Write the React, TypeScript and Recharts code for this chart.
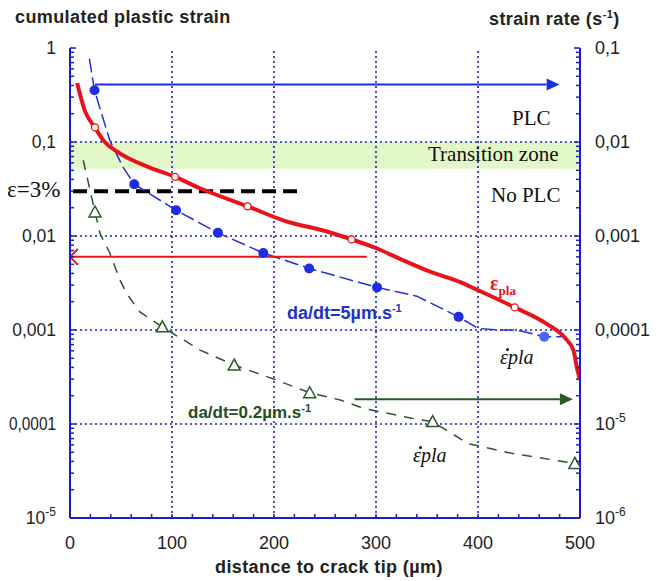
import React from "react";
import { ComposedChart, Line, XAxis, YAxis, ReferenceLine, ReferenceArea } from "recharts";

const W = 653;
const H = 573;
const AXIS = "#1c1cc8";
const GRID = "#1c1cd0";
const RED = "#e8141a";
const BLUE = "#1f2ee0";
const GREEN = "#2b572b";
const SANS = "'Liberation Sans', Arial, sans-serif";
const SERIF = "'Liberation Serif', 'Times New Roman', serif";

// distance to crack tip (µm)
const distanceTicks = [0, 20, 40, 60, 80, 100, 120, 140, 160, 180, 200, 220, 240, 260, 280, 300, 320, 340, 360, 380, 400, 420, 440, 460, 480, 500];
const distanceGrid = [100, 200, 300, 400];

// log ticks
const mantissas = [1, 2, 3, 4, 5, 6, 7, 8, 9];
const strainDecades = [1e-5, 1e-4, 1e-3, 1e-2, 0.1];
const rateDecades = [1e-6, 1e-5, 1e-4, 1e-3, 1e-2];
const strainGrid = [0.1, 0.01, 0.001, 0.0001];

// cumulated plastic strain (left axis)
const plaDist = [7, 15, 24.5, 33, 47, 77, 103, 128, 174, 209, 255, 276, 301, 323, 353, 382, 400, 436, 467, 485, 493.5, 497.5, 500];
const plaStrain = [0.425, 0.209, 0.143, 0.103, 0.078, 0.054, 0.0426, 0.032, 0.0207, 0.0147, 0.0109, 0.0092, 0.00736, 0.00575, 0.00417, 0.00325, 0.00265, 0.00174, 0.00117, 0.00083, 0.00061, 0.000374, 0.000295];
const plaMarkDist = [24.5, 103, 174, 276, 436];
const plaMarkStrain = [0.143, 0.0426, 0.0207, 0.0092, 0.00174];

// strain rate, da/dt = 5 µm/s (right axis)
const fastDist = [19, 24, 39, 52, 63, 104, 145, 189.5, 234.5, 301, 340, 381, 400, 421, 438, 465, 482];
const fastRate = [0.077, 0.0355, 0.0104, 0.0054, 0.00356, 0.00188, 0.00108, 0.00066, 0.000452, 0.000284, 0.000229, 0.000138, 0.000104, 0.0001, 0.0001, 0.000085, 0.000085];
const fastMarkDist = [24, 63, 104, 145, 189.5, 234.5, 301, 381];
const fastMarkRate = [0.0355, 0.00356, 0.00188, 0.00108, 0.00066, 0.000452, 0.000284, 0.000138];
const fastEndDist = [465];
const fastEndRate = [0.000085];

// strain rate, da/dt = 0.2 µm/s (right axis)
const slowDist = [13, 24.5, 29.5, 39, 49, 55.5, 68.5, 90.5, 127.5, 161, 202.5, 235, 265, 287.5, 335, 355.5, 390.5, 433, 495];
const slowRate = [0.0064, 0.0018, 0.00106, 0.00066, 0.000339, 0.000245, 0.000156, 0.000108, 0.0000611, 0.0000424, 0.0000293, 0.0000215, 0.000018, 0.0000147, 0.0000115, 0.0000106, 0.00000617, 0.00000488, 0.00000381];
const slowMarkDist = [24.5, 90.5, 161, 235, 355.5, 495];
const slowMarkRate = [0.0018, 0.000108, 0.0000424, 0.0000215, 0.0000106, 0.00000381];

// annotations
const transitionBand = [0.052, 0.1];
const plcArrow = { from: 24.5, to: 480, strain: 0.41 };
const noPlcArrow = { from: 291, to: 0, strain: 0.006 };
const slowArrow = { from: 279, to: 493, strain: 0.000183 };
const threshold = { from: 3, to: 227, strain: 0.03 };

const zip = (xs: number[], ys: number[]) => xs.map((x, i) => ({ x, y: ys[i] }));
const logTicks = (decades: number[], top: number) => [...decades.flatMap((d) => mantissas.map((m) => d * m)), top];
const isDecade = (v: number) => Math.abs(Math.log10(v) - Math.round(Math.log10(v))) < 1e-6;

const tickLabel = (v: number) => {
  if (v >= 1e-4) return <tspan>{String(v).replace(".", ",")}</tspan>;
  return (
    <>
      <tspan>10</tspan>
      <tspan dy={-8} fontSize={12}>{String(Math.round(Math.log10(v)))}</tspan>
    </>
  );
};

const leftTick = (props: any) => {
  const { x, y, payload } = props;
  const v = payload.value;
  const major = isDecade(v);
  // the longest label ("0,0001") is squeezed a little so it stays inside the picture
  const squeeze = major && v >= 1e-4 && String(v).length > 5 ? { textLength: x - 15, lengthAdjust: "spacingAndGlyphs" } : {};
  return (
    <g>
      <line x1={x} y1={y} x2={x + (major ? 6 : 4)} y2={y} stroke={AXIS} strokeWidth={1.5} />
      {major && (
        <text x={x - 14} y={y} dy="0.35em" textAnchor="end" fontSize={17.5} fill="#222" fontFamily={SANS} {...squeeze}>
          {tickLabel(v)}
        </text>
      )}
    </g>
  );
};

const rightTick = (props: any) => {
  const { x, y, payload } = props;
  const major = isDecade(payload.value);
  return (
    <g>
      <line x1={x} y1={y} x2={x - (major ? 6 : 4)} y2={y} stroke={AXIS} strokeWidth={1.5} />
      {major && (
        <text x={x + 15} y={y} dy="0.35em" textAnchor="start" fontSize={18} fill="#222" fontFamily={SANS}>
          {tickLabel(payload.value)}
        </text>
      )}
    </g>
  );
};

const bottomTick = (props: any) => {
  const { x, y, payload } = props;
  const major = payload.value % 100 === 0;
  return (
    <g>
      <line x1={x} y1={y} x2={x} y2={y - 4} stroke={AXIS} strokeWidth={1.5} />
      {major && (
        <text x={x} y={y + 25} dy="0.35em" textAnchor="middle" fontSize={18} fill="#222" fontFamily={SANS}>
          {payload.value}
        </text>
      )}
    </g>
  );
};

const topTick = (props: any) => {
  const { x, y } = props;
  return <line x1={x} y1={y} x2={x} y2={y + 4} stroke={AXIS} strokeWidth={1.5} />;
};

const filledArrow = (props: any) => {
  const { x1, y1, x2, y2, stroke } = props;
  const dir = x2 > x1 ? 1 : -1;
  const head = 13;
  return (
    <g>
      <line x1={x1} y1={y1} x2={x2 - dir * head} y2={y2} stroke={stroke} strokeWidth={2} />
      <polygon points={`${x2},${y2} ${x2 - dir * head},${y2 - 6} ${x2 - dir * head},${y2 + 6}`} fill={stroke} />
    </g>
  );
};

const openArrow = (props: any) => {
  const { x1, y1, x2, y2, stroke } = props;
  const dir = x2 > x1 ? 1 : -1;
  return (
    <g fill="none" stroke={stroke} strokeWidth={2}>
      <line x1={x1} y1={y1} x2={x2} y2={y2} />
      <polyline points={`${x2 - dir * 8},${y2 - 8} ${x2},${y2} ${x2 - dir * 8},${y2 + 8}`} />
    </g>
  );
};

const openCircle = (props: any) => <circle key={props.index} cx={props.cx} cy={props.cy} r={3.5} fill="#fff" stroke={RED} strokeWidth={1.3} />;
const blueDot = (props: any) => <circle key={props.index} cx={props.cx} cy={props.cy} r={5} fill={BLUE} stroke="none" />;
const blueEnd = (props: any) => <circle key={props.index} cx={props.cx} cy={props.cy} r={5} fill="#4d66f0" stroke="none" />;
const triangle = (props: any) => {
  const { cx, cy, index } = props;
  return <polygon key={index} points={`${cx},${cy - 6} ${cx - 6},${cy + 5} ${cx + 6},${cy + 5}`} fill="#fff" stroke={GREEN} strokeWidth={1.5} />;
};

const Note = ({ left, top, style, children }: any) => (
  <div style={{ position: "absolute", left, top, transform: "translateY(-50%)", whiteSpace: "nowrap", lineHeight: 1, pointerEvents: "none", ...style }}>
    {children}
  </div>
);

// strain rate symbol: epsilon with a dot above, followed by "pla"
const RateSymbol = () => (
  <>
    <span style={{ position: "relative", display: "inline-block" }}>
      ε
      <span style={{ position: "absolute", left: 6, top: 1, width: 3, height: 3, borderRadius: "50%", background: "#111" }} />
    </span>
    pla
  </>
);

export default function App() {
  const axisLine = { stroke: AXIS, strokeWidth: 2 };
  const title = { fontSize: 18, fontWeight: "bold", color: "#222", letterSpacing: 0.4 };
  return (
    <div style={{ position: "relative", width: W, height: H, fontFamily: SANS }}>
      <ComposedChart width={W} height={H} margin={{ top: 40, right: 0, bottom: 0, left: 0 }}>
        <XAxis xAxisId="x" type="number" dataKey="x" domain={[0, 500]} ticks={distanceTicks} interval={0} tickSize={0} tickMargin={0} tickLine={false} tick={bottomTick} axisLine={axisLine} height={63} allowDataOverflow />
        <XAxis xAxisId="top" orientation="top" type="number" domain={[0, 500]} ticks={distanceTicks} interval={0} tickSize={0} tickMargin={0} tickLine={false} tick={topTick} axisLine={axisLine} height={0} />
        <YAxis yAxisId="left" type="number" scale="log" domain={[1e-5, 1]} ticks={logTicks(strainDecades, 1)} interval={0} tickSize={0} tickMargin={0} tickLine={false} tick={leftTick} axisLine={axisLine} width={62} allowDataOverflow />
        <YAxis yAxisId="right" orientation="right" type="number" scale="log" domain={[1e-6, 0.1]} ticks={logTicks(rateDecades, 0.1)} interval={0} tickSize={0} tickMargin={0} tickLine={false} tick={rightTick} axisLine={axisLine} width={81} allowDataOverflow />

        <ReferenceArea xAxisId="x" yAxisId="left" y1={transitionBand[0]} y2={transitionBand[1]} fill="#e2f8c8" fillOpacity={1} stroke="none" />
        {distanceGrid.map((d) => (
          <ReferenceLine key={`gx${d}`} xAxisId="x" yAxisId="left" x={d} stroke={GRID} strokeWidth={1.6} strokeDasharray="2 3" />
        ))}
        {strainGrid.map((s) => (
          <ReferenceLine key={`gy${s}`} xAxisId="x" yAxisId="left" y={s} stroke={GRID} strokeWidth={1.6} strokeDasharray="2 3" />
        ))}

        <ReferenceLine xAxisId="x" yAxisId="left" segment={[{ x: threshold.from, y: threshold.strain }, { x: threshold.to, y: threshold.strain }]} stroke="#000" strokeWidth={4} strokeDasharray="14 7" />

        <Line xAxisId="x" yAxisId="right" data={zip(slowDist, slowRate)} dataKey="y" type="linear" stroke={GREEN} strokeWidth={1.5} strokeDasharray="10 8" dot={false} activeDot={false} isAnimationActive={false} />
        <Line xAxisId="x" yAxisId="right" data={zip(slowMarkDist, slowMarkRate)} dataKey="y" stroke="none" dot={triangle} activeDot={false} isAnimationActive={false} />

        <Line xAxisId="x" yAxisId="right" data={zip(fastDist, fastRate)} dataKey="y" type="linear" stroke={BLUE} strokeWidth={1.5} strokeDasharray="14 5" dot={false} activeDot={false} isAnimationActive={false} />
        <Line xAxisId="x" yAxisId="right" data={zip(fastMarkDist, fastMarkRate)} dataKey="y" stroke="none" dot={blueDot} activeDot={false} isAnimationActive={false} />
        <Line xAxisId="x" yAxisId="right" data={zip(fastEndDist, fastEndRate)} dataKey="y" stroke="none" dot={blueEnd} activeDot={false} isAnimationActive={false} />

        <Line xAxisId="x" yAxisId="left" data={zip(plaDist, plaStrain)} dataKey="y" type="monotone" stroke={RED} strokeWidth={4} dot={false} activeDot={false} isAnimationActive={false} />
        <Line xAxisId="x" yAxisId="left" data={zip(plaMarkDist, plaMarkStrain)} dataKey="y" stroke="none" dot={openCircle} activeDot={false} isAnimationActive={false} />

        <ReferenceLine xAxisId="x" yAxisId="left" segment={[{ x: plcArrow.from, y: plcArrow.strain }, { x: plcArrow.to, y: plcArrow.strain }]} stroke={BLUE} shape={filledArrow} />
        <ReferenceLine xAxisId="x" yAxisId="left" segment={[{ x: noPlcArrow.from, y: noPlcArrow.strain }, { x: noPlcArrow.to, y: noPlcArrow.strain }]} stroke={RED} shape={openArrow} />
        <ReferenceLine xAxisId="x" yAxisId="left" segment={[{ x: slowArrow.from, y: slowArrow.strain }, { x: slowArrow.to, y: slowArrow.strain }]} stroke={GREEN} shape={filledArrow} />
      </ComposedChart>

      <Note left={7} top={9} style={title}>cumulated plastic strain</Note>
      <Note left={481} top={10} style={title}>
        strain rate (s<sup style={{ fontSize: 11 }}>-1</sup>)
      </Note>
      <Note left={207} top={559} style={title}>distance to crack tip (µm)</Note>

      <Note left={504} top={110} style={{ fontFamily: SERIF, fontSize: 21, color: "#111" }}>PLC</Note>
      <Note left={420} top={146} style={{ fontFamily: SERIF, fontSize: 21, color: "#111" }}>Transition zone</Note>
      <Note left={483} top={187} style={{ fontFamily: SERIF, fontSize: 21, color: "#111" }}>No PLC</Note>
      <Note left={-1} top={181} style={{ fontFamily: SERIF, fontSize: 23, color: "#111" }}>ε=3%</Note>

      <Note left={482} top={277} style={{ fontFamily: SERIF, fontSize: 20, color: RED, fontWeight: "bold" }}>
        ε<sub style={{ fontSize: 13 }}>pla</sub>
      </Note>
      <Note left={279} top={304} style={{ fontSize: 18, fontWeight: "bold", color: "#2233c0" }}>
        da/dt=5µm.s<sup style={{ fontSize: 11 }}>-1</sup>
      </Note>
      <Note left={180} top={404} style={{ fontSize: 17, fontWeight: "bold", color: "#234d23" }}>
        da/dt=0.2µm.s<sup style={{ fontSize: 11 }}>-1</sup>
      </Note>
      <Note left={492} top={349} style={{ fontFamily: SERIF, fontSize: 20, fontStyle: "italic", color: "#111" }}>
        <RateSymbol />
      </Note>
      <Note left={405} top={447} style={{ fontFamily: SERIF, fontSize: 20, fontStyle: "italic", color: "#111" }}>
        <RateSymbol />
      </Note>
    </div>
  );
}
